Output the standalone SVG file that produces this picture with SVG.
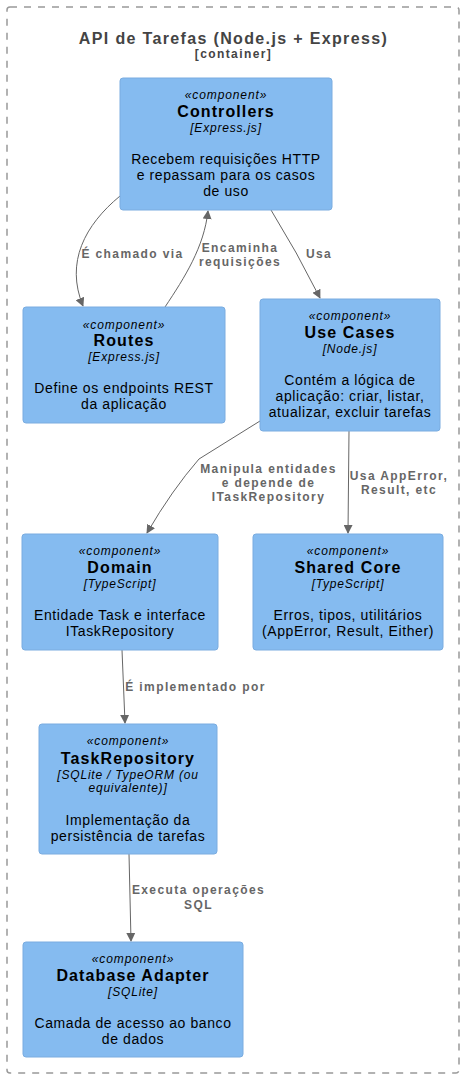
<svg xmlns="http://www.w3.org/2000/svg" width="465" height="1079" viewBox="0 0 465 1079">
<style>
.node rect{fill:#85BBF0;stroke:#7AACE0;stroke-width:1}
.t{font-family:"Liberation Sans",Arial,sans-serif;text-anchor:middle;fill:#000}
.st{font-size:12px;font-style:italic;letter-spacing:0.9px}
.nm{font-size:16px;font-weight:bold;letter-spacing:1.1px}
.tc{font-size:12px;font-style:italic;letter-spacing:0.8px}
.ds{font-size:14px;letter-spacing:0.6px}
.conn path{fill:none;stroke:#666;stroke-width:1}
.lb{font-family:"Liberation Sans",Arial,sans-serif;font-size:12px;font-weight:bold;fill:#666;text-anchor:middle;letter-spacing:1.4px}
</style>
<defs>
<marker id="arr" viewBox="0 0 10 10" refX="9" refY="5" markerWidth="9" markerHeight="9" markerUnits="userSpaceOnUse" orient="auto">
<path d="M0,0 L10,5 L0,10 z" fill="#666"/>
</marker>
</defs>
<g id="boundary">
<rect x="7" y="7" width="452" height="1066" rx="3" fill="none" stroke="#999" stroke-width="1.5" stroke-dasharray="7,7"/>
<text x="233.5" y="44" font-family="Liberation Sans,Arial,sans-serif" font-size="16" font-weight="bold" fill="#444" text-anchor="middle" letter-spacing="1.35">API de Tarefas (Node.js + Express)</text>
<text x="233.5" y="58" font-family="Liberation Sans,Arial,sans-serif" font-size="12" font-weight="bold" fill="#444" text-anchor="middle" letter-spacing="1.4">[container]</text>
</g>
<g class="conn" id="connectors">
<path d="M120,196 C85,225 65,262 83,306" marker-end="url(#arr)"/>
<path d="M165,307 C185,277 204,247 208,211" marker-end="url(#arr)"/>
<path d="M271,210 Q297,252 320,298" marker-end="url(#arr)"/>
<path d="M260,421 L199,459 Q172,490 147,533" marker-end="url(#arr)"/>
<path d="M349,431 L348,533" marker-end="url(#arr)"/>
<path d="M122,650 L125,723" marker-end="url(#arr)"/>
<path d="M129,854 L131,941" marker-end="url(#arr)"/>
<text class="lb" x="132.5" y="258">É chamado via</text>
<text class="lb" x="240" y="252">Encaminha</text>
<text class="lb" x="240" y="266">requisições</text>
<text class="lb" x="319" y="258">Usa</text>
<text class="lb" x="268.5" y="473">Manipula entidades</text>
<text class="lb" x="268.5" y="487">e depende de</text>
<text class="lb" x="268.5" y="501">ITaskRepository</text>
<text class="lb" x="399" y="480">Usa AppError,</text>
<text class="lb" x="399" y="494">Result, etc</text>
<text class="lb" x="195.5" y="691">É implementado por</text>
<text class="lb" x="198.5" y="894">Executa operações</text>
<text class="lb" x="198.5" y="909">SQL</text>
</g>
<g class="node" id="controllers">
<rect x="120" y="78" width="212" height="132" rx="3"/>
<text class="t st" x="226" y="99">«component»</text>
<text class="t nm" x="226" y="117">Controllers</text>
<text class="t tc" x="226" y="132">[Express.js]</text>
<text class="t ds" x="226" y="164">Recebem requisições HTTP</text>
<text class="t ds" x="226" y="180">e repassam para os casos</text>
<text class="t ds" x="226" y="196">de uso</text>
</g>
<g class="node" id="routes">
<rect x="23" y="307" width="202" height="116" rx="3"/>
<text class="t st" x="124" y="329">«component»</text>
<text class="t nm" x="124" y="346">Routes</text>
<text class="t tc" x="124" y="361">[Express.js]</text>
<text class="t ds" x="124" y="393">Define os endpoints REST</text>
<text class="t ds" x="124" y="409">da aplicação</text>
</g>
<g class="node" id="usecases">
<rect x="260" y="299" width="180" height="132" rx="3"/>
<text class="t st" x="350" y="320">«component»</text>
<text class="t nm" x="350" y="338">Use Cases</text>
<text class="t tc" x="350" y="353">[Node.js]</text>
<text class="t ds" x="350" y="385">Contém a lógica de</text>
<text class="t ds" x="350" y="401">aplicação: criar, listar,</text>
<text class="t ds" x="350" y="417">atualizar, excluir tarefas</text>
</g>
<g class="node" id="domain">
<rect x="22" y="534" width="196" height="116" rx="3"/>
<text class="t st" x="120" y="555">«component»</text>
<text class="t nm" x="120" y="573">Domain</text>
<text class="t tc" x="120" y="588">[TypeScript]</text>
<text class="t ds" x="120" y="620">Entidade Task e interface</text>
<text class="t ds" x="120" y="636">ITaskRepository</text>
</g>
<g class="node" id="sharedcore">
<rect x="253" y="534" width="190" height="116" rx="3"/>
<text class="t st" x="348" y="555">«component»</text>
<text class="t nm" x="348" y="573">Shared Core</text>
<text class="t tc" x="348" y="588">[TypeScript]</text>
<text class="t ds" x="348" y="620">Erros, tipos, utilitários</text>
<text class="t ds" x="348" y="636">(AppError, Result, Either)</text>
</g>
<g class="node" id="taskrepository">
<rect x="39" y="724" width="178" height="130" rx="3"/>
<text class="t st" x="128" y="745">«component»</text>
<text class="t nm" x="128" y="764">TaskRepository</text>
<text class="t tc" x="128" y="779">[SQLite / TypeORM (ou</text>
<text class="t tc" x="128" y="792">equivalente)]</text>
<text class="t ds" x="128" y="825">Implementação da</text>
<text class="t ds" x="128" y="841">persistência de tarefas</text>
</g>
<g class="node" id="databaseadapter">
<rect x="23" y="942" width="220" height="115" rx="3"/>
<text class="t st" x="133" y="963">«component»</text>
<text class="t nm" x="133" y="981">Database Adapter</text>
<text class="t tc" x="133" y="996">[SQLite]</text>
<text class="t ds" x="133" y="1028">Camada de acesso ao banco</text>
<text class="t ds" x="133" y="1044">de dados</text>
</g>
</svg>
